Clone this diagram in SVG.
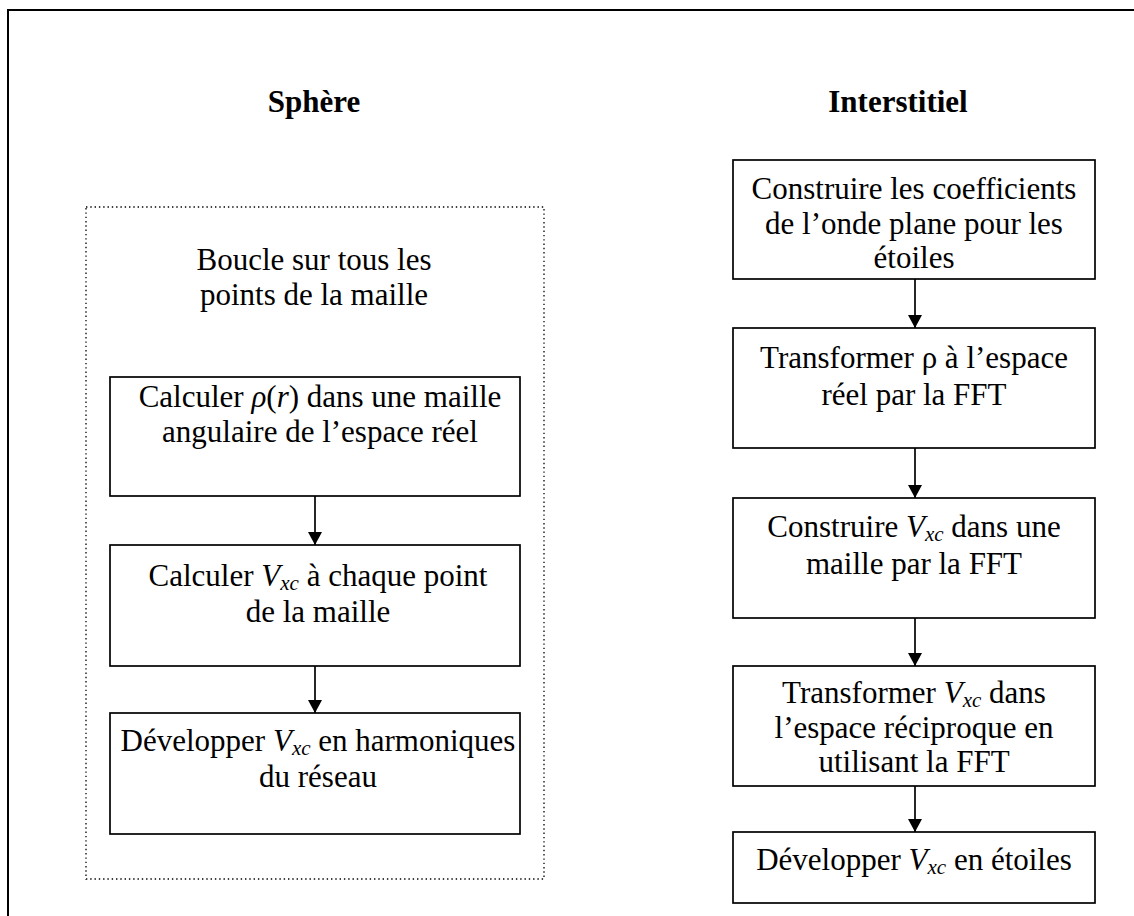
<svg xmlns="http://www.w3.org/2000/svg" width="1134" height="916" viewBox="0 0 1134 916">
  <style>
    .frame { fill: none; stroke: #000; stroke-width: 2; }
    .box { fill: #fff; stroke: #000; stroke-width: 1.7; }
    .loop { fill: none; stroke: #000; stroke-width: 1.3; stroke-dasharray: 1.4 2.9; }
    .edge { stroke: #000; stroke-width: 1.7; fill: none; }
    text { font-family: "Liberation Serif", "Times New Roman", serif; font-size: 31px; fill: #000; text-anchor: middle; }
    .head { font-weight: bold; }
    .it { font-style: italic; }
    .sub { font-style: italic; font-size: 21px; }
  </style>
  <defs>
    <marker id="arrow" markerWidth="14" markerHeight="14" refX="13" refY="7" orient="auto" markerUnits="userSpaceOnUse" viewBox="0 0 14 14">
      <path d="M0,0 L13,7 L0,14 Z" fill="#000"/>
    </marker>
  </defs>

  <!-- page frame (open on the right and bottom) -->
  <path class="frame" d="M8,916 V10 H1134"/>

  <!-- column titles -->
  <g id="title-sphere"><text class="head" x="314" y="112">Sphère</text></g>
  <g id="title-interstitiel"><text class="head" x="898" y="112">Interstitiel</text></g>

  <!-- sphere loop -->
  <g id="loop-sphere">
    <rect class="loop" x="86" y="207" width="458" height="672"/>
    <text x="314" y="270">Boucle sur tous les</text>
    <text x="314" y="305">points de la maille</text>
  </g>

  <g id="s1">
    <rect class="box" x="110" y="377" width="410" height="119"/>
    <text x="320" y="407">Calculer <tspan class="it">ρ</tspan>(<tspan class="it">r</tspan>) dans une maille</text>
    <text x="320" y="442">angulaire de l’espace réel</text>
  </g>
  <g id="s2">
    <rect class="box" x="110" y="545" width="410" height="121"/>
    <text x="318" y="586">Calculer <tspan class="it">V</tspan><tspan class="sub" dy="4">xc</tspan><tspan dy="-4"> à chaque point</tspan></text>
    <text x="318" y="622">de la maille</text>
  </g>
  <g id="s3">
    <rect class="box" x="110" y="713" width="410" height="121"/>
    <text x="318" y="751">Développer <tspan class="it">V</tspan><tspan class="sub" dy="4">xc</tspan><tspan dy="-4"> en harmoniques</tspan></text>
    <text x="318" y="787">du réseau</text>
  </g>

  <!-- interstitial column -->
  <g id="i1">
    <rect class="box" x="733" y="160" width="362" height="119"/>
    <text x="914" y="199">Construire les coefficients</text>
    <text x="914" y="234">de l’onde plane pour les</text>
    <text x="914" y="268">étoiles</text>
  </g>
  <g id="i2">
    <rect class="box" x="733" y="328" width="362" height="120"/>
    <text x="914" y="368">Transformer ρ à l’espace</text>
    <text x="914" y="405">réel par la FFT</text>
  </g>
  <g id="i3">
    <rect class="box" x="733" y="498" width="362" height="120"/>
    <text x="914" y="537"><tspan>Construire </tspan><tspan class="it">V</tspan><tspan class="sub" dy="4">xc</tspan><tspan dy="-4"> dans une</tspan></text>
    <text x="914" y="574">maille par la FFT</text>
  </g>
  <g id="i4">
    <rect class="box" x="733" y="666" width="362" height="120"/>
    <text x="914" y="703"><tspan>Transformer </tspan><tspan class="it">V</tspan><tspan class="sub" dy="4">xc</tspan><tspan dy="-4"> dans</tspan></text>
    <text x="914" y="738">l’espace réciproque en</text>
    <text x="914" y="772">utilisant la FFT</text>
  </g>
  <g id="i5">
    <rect class="box" x="733" y="832" width="362" height="71"/>
    <text x="914" y="870"><tspan>Développer </tspan><tspan class="it">V</tspan><tspan class="sub" dy="4">xc</tspan><tspan dy="-4"> en étoiles</tspan></text>
  </g>

  <!-- connectors -->
  <g id="connectors">
    <line class="edge" x1="315" y1="496" x2="315" y2="545" marker-end="url(#arrow)"/>
    <line class="edge" x1="315" y1="666" x2="315" y2="713" marker-end="url(#arrow)"/>
    <line class="edge" x1="915" y1="279" x2="915" y2="328" marker-end="url(#arrow)"/>
    <line class="edge" x1="915" y1="448" x2="915" y2="498" marker-end="url(#arrow)"/>
    <line class="edge" x1="915" y1="618" x2="915" y2="666" marker-end="url(#arrow)"/>
    <line class="edge" x1="915" y1="786" x2="915" y2="832" marker-end="url(#arrow)"/>
  </g>
</svg>
